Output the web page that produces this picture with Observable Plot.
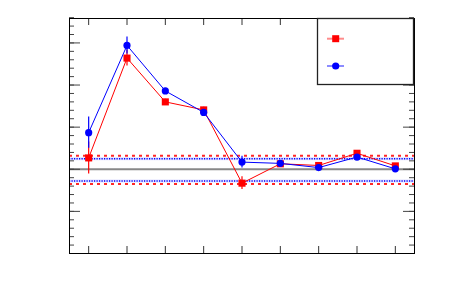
<!DOCTYPE html>
<html>
<head>
<meta charset="utf-8">
<script src="https://cdn.jsdelivr.net/npm/d3@7"></script>
<script src="https://cdn.jsdelivr.net/npm/@observablehq/plot@0.6"></script>
<style>
  html, body { margin: 0; padding: 0; background: #fff; }
  #chart svg { display: block; }
</style>
</head>
<body>
<div id="chart"></div>
<script>
// Data
const bins = [1, 2, 3, 4, 5, 6, 7, 8, 9];
const redVals  = [1.027, 1.264, 1.160, 1.141, 0.967, 1.013, 1.009, 1.038, 1.008];
const redErr   = [0.038, 0.019, 0.006, 0.006, 0.015, 0.005, 0.005, 0.006, 0.005];
const blueVals = [1.087, 1.294, 1.186, 1.135, 1.017, 1.014, 1.004, 1.029, 1.001];
const blueErr  = [0.037, 0.020, 0.006, 0.006, 0.014, 0.005, 0.005, 0.005, 0.005];
const redBand  = [0.965, 1.032];
const blueBand = [0.972, 1.025];
const referenceLine = [1.0];
const yMajorTicks = [0.8, 0.9, 1.0, 1.1, 1.2, 1.3];
const yMinorTicks = d3.range(0, 29).map(i => +(0.8 + i * 0.02).toFixed(2));
const xTicks = bins;

const red = "#ff0000", blue = "#0000ff";
const redData = bins.map((b, i) => ({x: b, y: redVals[i], e: redErr[i]}));
const blueData = bins.map((b, i) => ({x: b, y: blueVals[i], e: blueErr[i]}));

const W = 459, H = 300, mL = 69, mR = 45, mT = 18, mB = 47;
const fw = W - mL - mR, fh = H - mT - mB;

const chart = Plot.plot({
  width: W, height: H,
  marginLeft: mL, marginRight: mR, marginTop: mT, marginBottom: mB,
  x: {domain: [0.5, 9.5], axis: null},
  y: {domain: [0.8, 1.358], axis: null},
  style: {background: "#fff", overflow: "visible"},
  marks: [
    Plot.ruleY(referenceLine, {stroke: "#888", strokeWidth: 2}),
    Plot.ruleY(redBand, {stroke: red, strokeWidth: 2, strokeDasharray: "3,4", strokeOpacity: 0.85}),
    Plot.ruleY(blueBand, {stroke: blue, strokeWidth: 3, strokeOpacity: 0.12}),
    Plot.ruleY(blueBand, {stroke: blue, strokeWidth: 1.5, strokeDasharray: "1.2,1.3"}),
    // ticks
    Plot.tickY(yMajorTicks, {y: d => d, stroke: "#444", insetRight: fw - 11}),
    Plot.tickY(yMinorTicks, {y: d => d, stroke: "#444", insetRight: fw - 5}),
    Plot.tickY(yMajorTicks, {y: d => d, stroke: "#444", insetLeft: fw - 11}),
    Plot.tickY(yMinorTicks, {y: d => d, stroke: "#444", insetLeft: fw - 5}),
    Plot.tickX(xTicks, {x: d => d, stroke: "#333", insetTop: fh - 7}),
    Plot.tickX(xTicks, {x: d => d, stroke: "#333", insetBottom: fh - 7}),
    // series
    Plot.ruleX(redData, {x: "x", y1: d => d.y - d.e, y2: d => d.y + d.e, stroke: red, strokeWidth: 1.2}),
    Plot.line(redData, {x: "x", y: "y", stroke: red, strokeWidth: 1}),
    Plot.dot(redData, {x: "x", y: "y", symbol: "square", r: 4, fill: red, stroke: "none"}),
    Plot.ruleX(blueData, {x: "x", y1: d => d.y - d.e, y2: d => d.y + d.e, stroke: blue, strokeWidth: 1.2}),
    Plot.line(blueData, {x: "x", y: "y", stroke: blue, strokeWidth: 1}),
    Plot.dot(blueData, {x: "x", y: "y", symbol: "circle", r: 3.6, fill: blue, stroke: "none"}),
    Plot.frame({stroke: "#000", strokeWidth: 1})
  ]
});
document.getElementById("chart").appendChild(chart);

// Legend (layout element, drawn in pixel space)
const svg = d3.select(chart);
const lg = svg.append("g");
const lx = 317.5, ly = 18.5, lw = 96, lh = 66;
lg.append("rect").attr("x", lx).attr("y", ly).attr("width", lw).attr("height", lh)
  .attr("fill", "#fff").attr("stroke", "#222").attr("stroke-width", 1.3);
const entries = [{c: red, sym: "square", y: 38.7}, {c: blue, sym: "circle", y: 66}];
for (const e of entries) {
  lg.append("line").attr("x1", 327).attr("x2", 344).attr("y1", e.y).attr("y2", e.y)
    .attr("stroke", e.c).attr("stroke-opacity", 0.45).attr("stroke-width", 2);
  if (e.sym === "square") {
    lg.append("rect").attr("x", 335.7 - 3.5).attr("y", e.y - 3.5).attr("width", 7).attr("height", 7).attr("fill", e.c);
  } else {
    lg.append("circle").attr("cx", 335.7).attr("cy", e.y).attr("r", 3.6).attr("fill", e.c);
  }
}
</script>
</body>
</html>
